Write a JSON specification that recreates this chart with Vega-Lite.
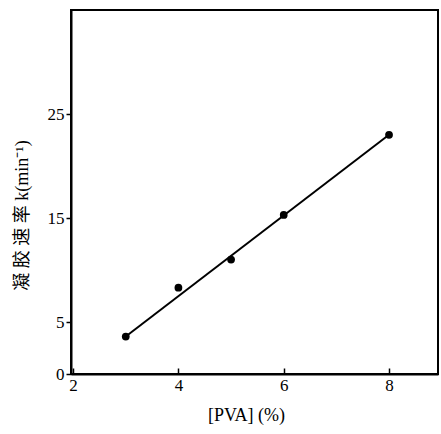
{
  "$schema": "https://vega.github.io/schema/vega-lite/v6.json",
  "autosize": {"type": "none"},
  "padding": {"left": 71, "top": 10, "right": 3, "bottom": 60},
  "width": 367,
  "height": 364,
  "background": "white",
  "config": {
    "view": {"stroke": "black", "strokeWidth": 2},
    "font": "Liberation Serif",
    "axis": {"grid": false, "domainColor": "black", "domainWidth": 2, "tickColor": "black", "tickWidth": 1.5, "labelColor": "black", "titleColor": "black", "titleFontWeight": "normal", "labelFont": "Liberation Serif", "labelFontSize": 17}
  },
  "datasets": {
    "pts": [
      {"x": 3, "y": 3.6},
      {"x": 4, "y": 8.3},
      {"x": 5, "y": 11.0},
      {"x": 6, "y": 15.3},
      {"x": 8, "y": 23.0}
    ],
    "fit": [
      {"x": 3, "y": 3.6},
      {"x": 8, "y": 23.0}
    ]
  },
  "encoding": {
    "x": {"field": "x", "type": "quantitative", "scale": {"domain": [1.96, 8.93], "nice": false, "zero": false},
      "axis": {"values": [2, 4, 6, 8], "format": "d", "tickSize": -6, "labelPadding": 9, "title": "[PVA] (%)", "titleFont": "Liberation Serif, Noto Sans CJK SC, serif", "titleFontSize": 18, "titlePadding": 13, "titleX": 175}},
    "y": {"field": "y", "type": "quantitative", "scale": {"domain": [0, 35], "nice": false},
      "axis": {"values": [0, 5, 15, 25], "format": "d", "tickSize": 5, "labelPadding": 2, "title": "凝 胶 速 率  k(min⁻¹)", "titleFont": "Liberation Serif, Noto Sans CJK SC, serif", "titleFontSize": 18, "titlePadding": 16, "titleAnchor": "middle", "titleY": 205, "titleBaseline": "bottom"}}
  },
  "layer": [
    {
      "data": {"name": "fit"},
      "mark": {"type": "line", "color": "black", "strokeWidth": 2}
    },
    {
      "data": {"name": "pts"},
      "mark": {"type": "point", "filled": true, "color": "black", "size": 60, "opacity": 1}
    }
  ]
}
